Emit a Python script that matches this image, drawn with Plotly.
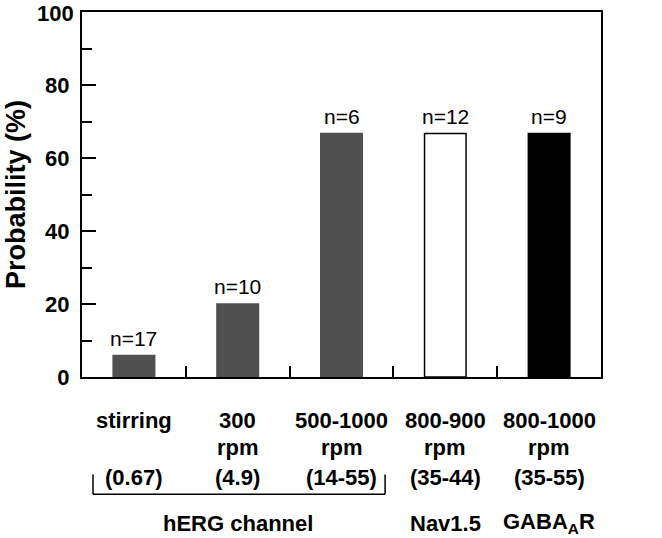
import plotly.graph_objects as go

categories = ["stirring", "300 rpm", "500-1000 rpm", "800-900 rpm", "800-1000 rpm"]
row1 = ["stirring", "300", "500-1000", "800-900", "800-1000"]
row2 = ["", "rpm", "rpm", "rpm", "rpm"]
row3 = ["(0.67)", "(4.9)", "(14-55)", "(35-44)", "(35-55)"]
probability = [5.88, 20.0, 66.7, 66.7, 66.7]
n_labels = ["n=17", "n=10", "n=6", "n=12", "n=9"]
fill_colors = ["#505050", "#505050", "#505050", "#ffffff", "#000000"]
line_colors = ["#505050", "#505050", "#505050", "#000000", "#000000"]
groups = ["hERG channel", "Nav1.5", "GABA<sub>A</sub>R"]
group_x = [1, 3, 4]
y_ticks = [0, 20, 40, 60, 80, 100]
y_minor = [10, 30, 50, 70, 90]

FONT = "Liberation Sans, Arial, sans-serif"

fig = go.Figure()
fig.add_trace(go.Bar(
    x=categories, y=probability,
    marker=dict(color=fill_colors, line=dict(color=line_colors, width=1.5)),
    width=0.4, showlegend=False,
))

ann = []
for c, v, t in zip(categories, probability, n_labels):
    ann.append(dict(x=c, y=v, xref="x", yref="y", text=t, showarrow=False,
                    yanchor="bottom", yshift=4, font=dict(size=21, color="black", family=FONT)))
for rowtexts, ys in ((row1, -43), (row2, -70), (row3, -100)):
    for c, t in zip(categories, rowtexts):
        if t:
            ann.append(dict(x=c, y=0, xref="x", yref="paper", text="<b>%s</b>" % t, showarrow=False,
                            yanchor="middle", yshift=ys, font=dict(size=22, color="black", family=FONT)))
for g, gx in zip(groups, group_x):
    ann.append(dict(x=categories[gx], y=0, xref="x", yref="paper", text="<b>%s</b>" % g, showarrow=False,
                    yanchor="middle", yshift=-146, font=dict(size=22, color="black", family=FONT)))
# top tick label (drawn as annotation so it is not dropped at the figure edge)
ann.append(dict(x=0, y=y_ticks[-1], xref="paper", yref="y", text="<b>%d</b>" % y_ticks[-1], showarrow=False,
                xanchor="right", yanchor="middle", xshift=-6, yshift=-1,
                font=dict(size=22, color="black", family=FONT)))

shapes = [
    dict(type="line", xref="paper", yref="paper", x0=0.0212, x1=0.584, y0=-0.3215, y1=-0.3215,
         line=dict(color="black", width=1.5)),
    dict(type="line", xref="paper", yref="paper", x0=0.0212, x1=0.0212, y0=-0.3215, y1=-0.267,
         line=dict(color="black", width=1.5)),
    dict(type="line", xref="paper", yref="paper", x0=0.584, x1=0.584, y0=-0.3215, y1=-0.267,
         line=dict(color="black", width=1.5)),
]

fig.update_layout(
    width=662, height=538,
    margin=dict(l=82, r=61, t=10, b=161),
    plot_bgcolor="white", paper_bgcolor="white",
    font=dict(family=FONT, color="black"),
    annotations=ann, shapes=shapes,
    xaxis=dict(range=[-0.5, 4.5], showline=True, linecolor="black", linewidth=2, mirror=True,
               ticks="inside", tickson="boundaries", ticklen=11, tickwidth=1.5, tickcolor="black",
               showticklabels=False, showgrid=False, zeroline=False),
    yaxis=dict(range=[0, 100], showline=True, linecolor="black", linewidth=2, mirror=True,
               ticks="inside", ticklen=14, tickwidth=1.5, tickcolor="black",
               tickvals=y_ticks[:-1], ticktext=["<b>%d</b>" % v for v in y_ticks[:-1]],
               tickfont=dict(size=22, family=FONT), ticklabelstandoff=6,
               minor=dict(ticks="inside", ticklen=10, tickwidth=1.5, tickcolor="black", tickvals=y_minor),
               title=dict(text="<b>Probability (%)</b>", font=dict(size=27, family=FONT), standoff=12),
               showgrid=False, zeroline=False),
)

fig.write_html("out.html", config={"displayModeBar": False},
               post_script="document.body.style.margin='0';")
